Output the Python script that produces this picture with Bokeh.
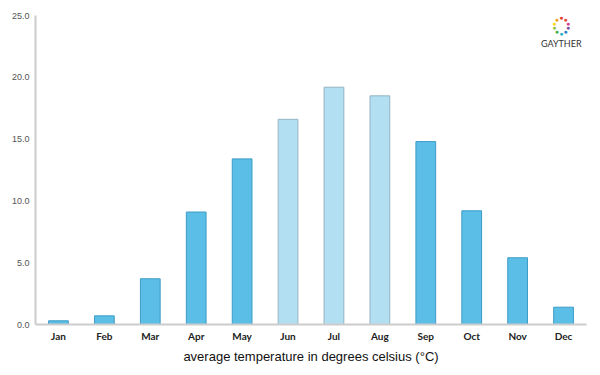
import math
from bokeh.plotting import figure
from bokeh.models import ColumnDataSource, Range1d, Label, FixedTicker, PrintfTickFormatter
from bokeh.embed import file_html
from bokeh.resources import INLINE

months = ["Jan", "Feb", "Mar", "Apr", "May", "Jun", "Jul", "Aug", "Sep", "Oct", "Nov", "Dec"]
temps = [0.3, 0.7, 3.7, 9.1, 13.4, 16.6, 19.2, 18.5, 14.8, 9.2, 5.4, 1.4]
summer = [False, False, False, False, False, True, True, True, False, False, False, False]
y_ticks = [0, 5, 10, 15, 20, 25]

fill = ["#b2dff2" if s else "#5bbee7" for s in summer]
edge = ["#93b3c2" if s else "#3d9cc6" for s in summer]

src = ColumnDataSource(dict(month=months, temp=temps, fill=fill, edge=edge))

p = figure(x_range=months, y_range=Range1d(0, 25), frame_width=551, frame_height=309,
           output_backend="svg", toolbar_location=None,
           min_border_left=35, min_border_right=14, min_border_top=15, min_border_bottom=51)
p.outline_line_color = None
p.xgrid.grid_line_color = None
p.ygrid.grid_line_color = None
p.x_range.range_padding = 0

p.vbar(x="month", top="temp", width=0.43, source=src, fill_color="fill",
       line_color="edge", line_width=1)

p.yaxis.ticker = FixedTicker(ticks=y_ticks)
p.yaxis.formatter = PrintfTickFormatter(format="%.1f")
for ax in (p.xaxis[0], p.yaxis[0]):
    ax.axis_line_color = "#cccccc"
    ax.axis_line_width = 2
    ax.major_tick_line_color = None
    ax.minor_tick_line_color = None
    ax.major_tick_out = 0
    ax.major_tick_in = 0
p.yaxis.major_label_text_font = "Liberation Sans"
p.yaxis.major_label_text_font_size = "9px"
p.yaxis.major_label_text_color = "#555555"
p.yaxis.major_label_standoff = 6
p.xaxis.major_label_text_font = "Lato"
p.xaxis.major_label_text_font_style = "bold"
p.xaxis.major_label_text_font_size = "10px"
p.xaxis.major_label_text_color = "#222222"
p.xaxis.major_label_standoff = 5
p.xaxis.axis_label = "average temperature in degrees celsius (°C)"
p.xaxis.axis_label_text_font = "Liberation Sans"
p.xaxis.axis_label_text_font_style = "normal"
p.xaxis.axis_label_text_font_size = "13px"
p.xaxis.axis_label_text_color = "#111111"
p.xaxis.axis_label_standoff = 4

# logo (decoration), placed in the plot's own coordinates
logo_colors = ["#e63b2e", "#f0a020", "#f5d020", "#8cc63f", "#3cb54a", "#2ab0c5",
               "#2a7fc0", "#7a4fa0", "#d63c8f", "#e8483c"]
cx, cy = 11.45, 24.2
for i, c in enumerate(logo_colors):
    a = 2 * math.pi * i / len(logo_colors) + math.pi / 2
    p.add_layout(Label(x=cx + 0.16 * math.cos(a), y=cy + 0.62 * math.sin(a),
                       text="●", text_color=c, text_font_size="7px",
                       text_align="center", text_baseline="middle"))
p.add_layout(Label(x=cx, y=22.75, text="GAYTHER",
                   text_color="#333333", text_font="Lato", text_font_size="9px",
                   text_align="center", text_baseline="middle"))

open("out.html", "w").write(file_html(p, INLINE))
